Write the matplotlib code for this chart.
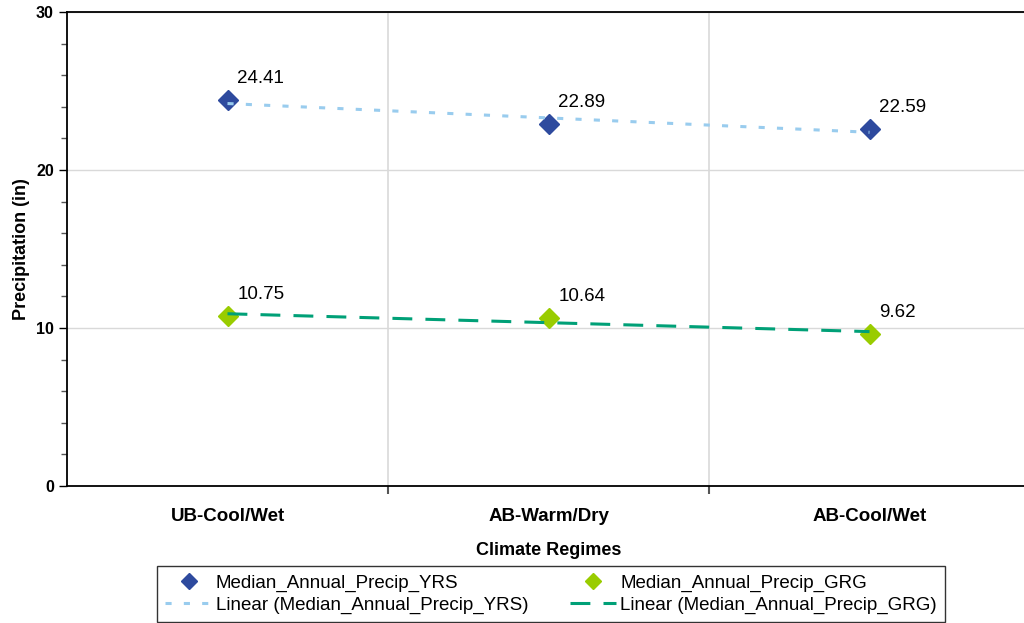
import numpy as np
import matplotlib
matplotlib.use("Agg")
import matplotlib.pyplot as plt
from matplotlib.ticker import MultipleLocator
from matplotlib.lines import Line2D

categories = ["UB-Cool/Wet", "AB-Warm/Dry", "AB-Cool/Wet"]
yrs = [24.41, 22.89, 22.59]
grg = [10.75, 10.64, 9.62]
yrs_label = "Median_Annual_Precip_YRS"
grg_label = "Median_Annual_Precip_GRG"

plt.rcParams['font.family'] = ['Liberation Sans', 'DejaVu Sans']

fig = plt.figure(figsize=(10.24, 6.23), dpi=100)
ax = fig.add_axes([67/1024, 1-486/623, (1030-67)/1024, (486-12)/623])

x = np.arange(len(categories)) + 0.5
ax.set_xlim(0, 3)
ax.set_ylim(0, 30)

c_yrs = "#2E4A9E"
c_grg = "#99CC00"
c_yrs_t = "#99CCEE"
c_grg_t = "#00A077"
yrs_dash = (0, (2.0, 4.0))
grg_dash = (0, (6.5, 4.3))

ax.plot(x, yrs, 'D', color=c_yrs, ms=10.5, ls='none', zorder=3)
ax.plot(x, grg, 'D', color=c_grg, ms=10.5, ls='none', zorder=3)

# linear trendlines
idx = np.arange(len(categories))
for vals, col, dash in [(yrs, c_yrs_t, yrs_dash), (grg, c_grg_t, grg_dash)]:
    p = np.polyfit(idx, vals, 1)
    ax.plot(x, np.polyval(p, idx), color=col, lw=2.2, ls=dash, zorder=4)

for series in (yrs, grg):
    for xi, v in zip(x, series):
        ax.annotate(f"{v:.2f}", (xi, v), xytext=(7, 9.5), textcoords='offset points',
                    fontsize=13.5, ha='left', va='bottom')

ax.set_xticks(x)
ax.set_xticklabels(categories, fontsize=13.5, fontweight='bold')
ax.set_xticks([1, 2], minor=True)
ax.tick_params(axis='x', which='major', length=0, pad=16)
ax.tick_params(axis='x', which='minor', length=6, width=1.5, color='#555555', direction='out')

ax.yaxis.set_major_locator(MultipleLocator(10))
ax.yaxis.set_minor_locator(MultipleLocator(2))
ax.tick_params(axis='y', which='major', length=6, width=1, labelsize=11.5, direction='out')
ax.tick_params(axis='y', which='minor', length=4, width=1, color='#555555', direction='out')
for lab in ax.get_yticklabels():
    lab.set_fontweight('bold')

ax.grid(axis='y', which='major', color='#d9d9d9', lw=1)
for gx in [1, 2]:
    ax.axvline(gx, color='#d9d9d9', lw=1.2, zorder=0)
ax.set_axisbelow(True)

ax.spines['right'].set_visible(False)
for s in ['left', 'bottom', 'top']:
    ax.spines[s].set_color('black')
    ax.spines[s].set_linewidth(1.3)

ax.set_xlabel("Climate Regimes", fontsize=13, fontweight='bold', labelpad=12)
ax.set_ylabel("Precipitation (in)", fontsize=13, fontweight='bold', labelpad=4)

handles = [
    Line2D([], [], marker='D', color=c_yrs, ls='none', ms=8),
    Line2D([], [], color=c_yrs_t, lw=2.2, ls=yrs_dash),
    Line2D([], [], marker='D', color=c_grg, ls='none', ms=8),
    Line2D([], [], color=c_grg_t, lw=2.2, ls=grg_dash),
]
labels = [yrs_label, f"Linear ({yrs_label})", grg_label, f"Linear ({grg_label})"]
leg = fig.legend(handles, labels, ncol=2, loc='center', bbox_to_anchor=(551/1024, 1-594/623),
                 fontsize=13.5, frameon=True, fancybox=False, edgecolor='black',
                 handlelength=2.5, handletextpad=0.2, columnspacing=2.2,
                 borderpad=0.45, labelspacing=0.25)
leg.get_frame().set_linewidth(1.0)

fig.savefig("out.png", dpi=100)
